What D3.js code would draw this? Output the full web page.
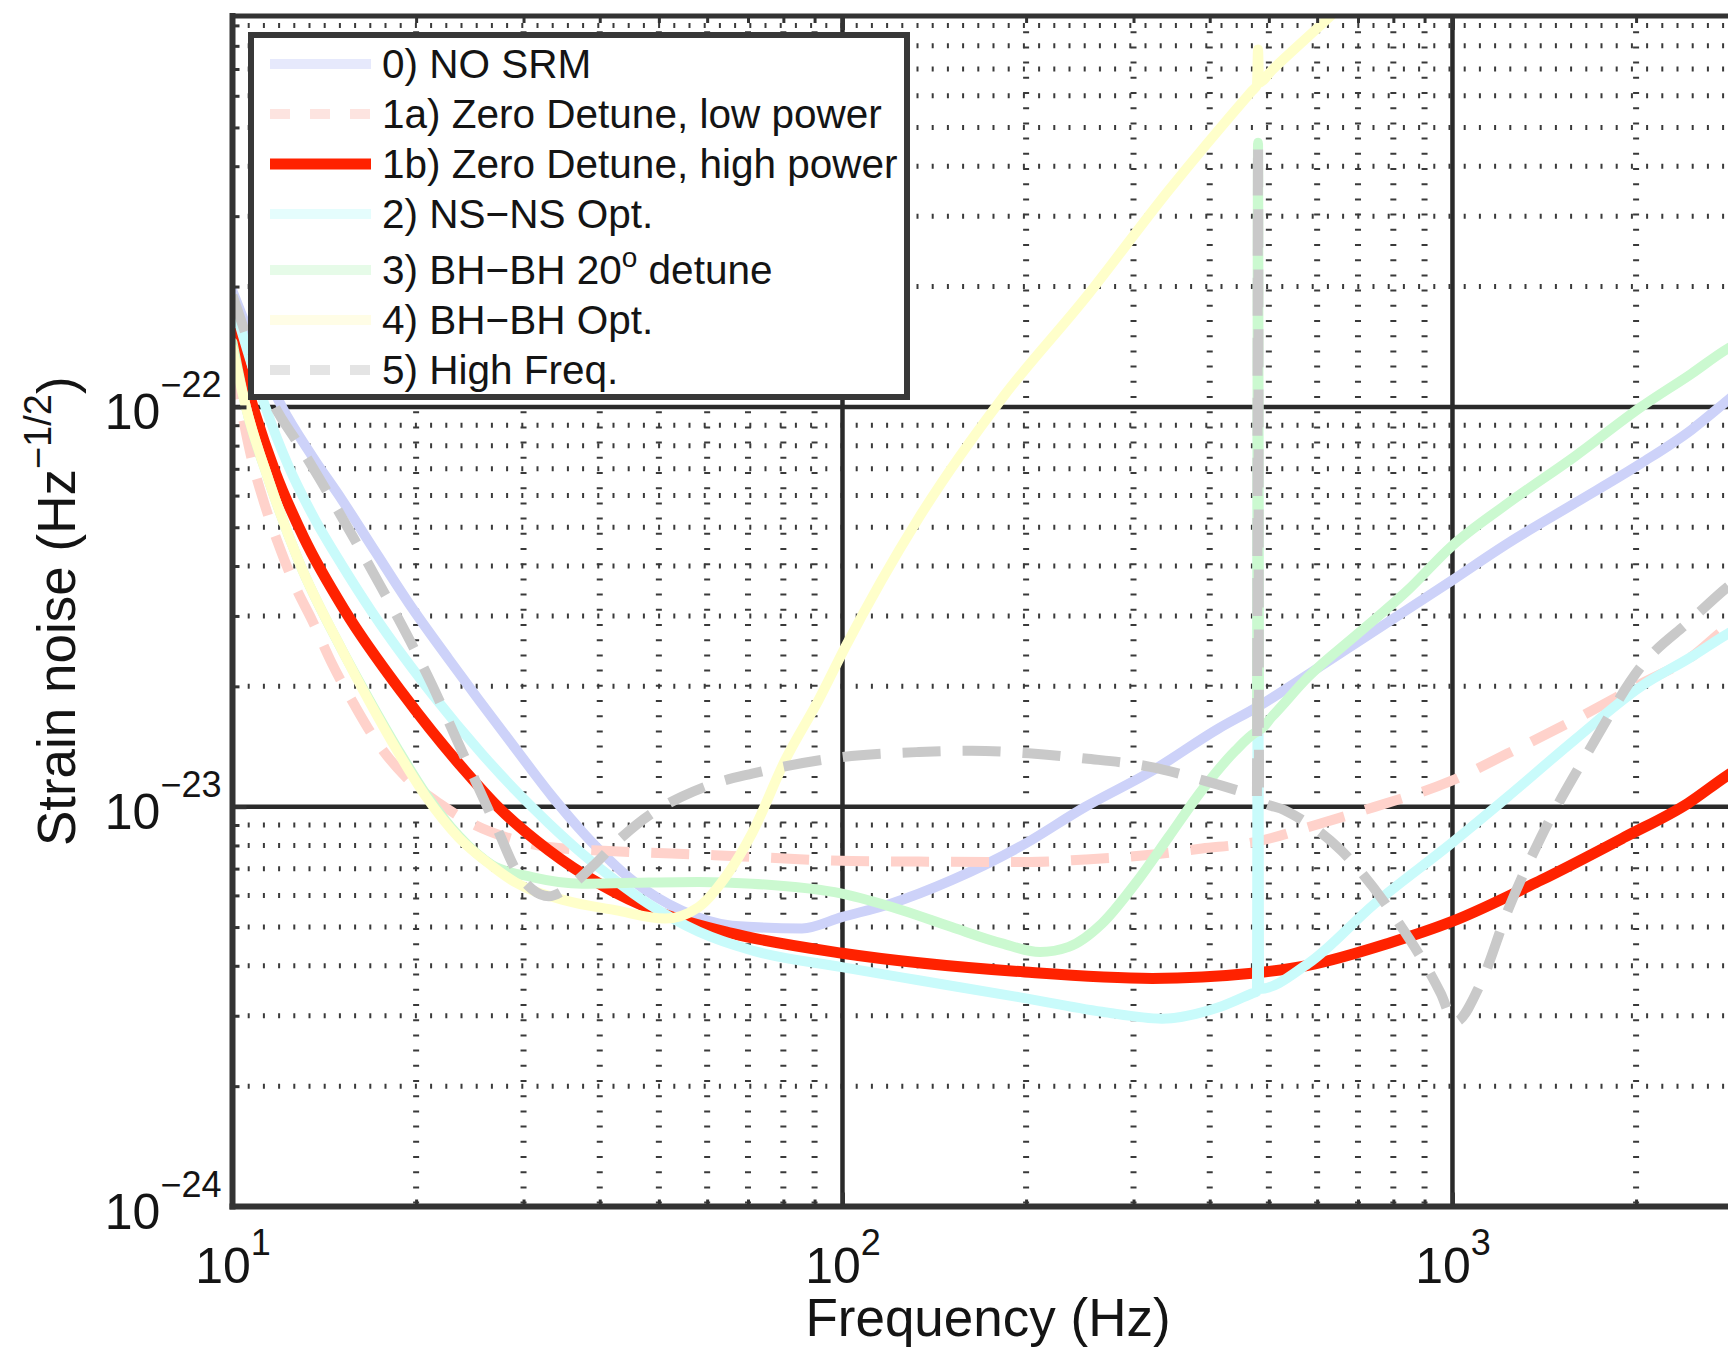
<!DOCTYPE html>
<html>
<head>
<meta charset="utf-8">
<title>Strain noise</title>
<script src="https://cdn.jsdelivr.net/npm/d3@7"></script>
<style>
  body { margin: 0; background: #fff; }
  svg { display: block; }
  text { font-family: "Liberation Sans", Arial, Helvetica, sans-serif; fill: #141414; }
</style>
</head>
<body>
<div id="chart"></div>
<script>
/* global d3 */

// axis limits and tick labels
const xLimits = [10, 3000]
const yLimits = [1e-24, 9.5e-22]
const xTicks = [10, 100, 1000]
const xTickExp = ['1', '2', '3']
const yTicks = [1e-24, 1e-23, 1e-22]
const yTickExp = ['\u221224', '\u221223', '\u221222']

const legendLabels = [
  '0) NO SRM',
  '1a) Zero Detune, low power',
  '1b) Zero Detune, high power',
  '2) NS\u2212NS Opt.',
  '3) BH\u2212BH 20^o detune',
  '4) BH\u2212BH Opt.',
  '5) High Freq.'
]

// series: frequency (Hz) / strain noise (1/sqrt(Hz))
// 0) NO SRM
const f0 = [10, 12.05, 13.5, 15.12, 17.15, 19.45, 22.62, 25.32, 29.08, 33.4, 37.87, 45.2, 54.6, 65.9, 85.8, 100, 120, 151, 195, 250, 322, 414, 480, 617, 794, 995, 1233, 1586, 2039, 2464, 2829, 3000]
const h0 = [1.95e-22, 1.0e-22, 7.54e-23, 5.85e-23, 4.34e-23, 3.23e-23, 2.34e-23, 1.853e-23, 1.40e-23, 1.062e-23, 8.49e-24, 6.55e-24, 5.49e-24, 5.04e-24, 4.96e-24, 5.30e-24, 5.72e-24, 6.55e-24, 7.93e-24, 9.99e-24, 1.23e-23, 1.57e-23, 1.78e-23, 2.28e-23, 2.93e-23, 3.67e-23, 4.56e-23, 5.74e-23, 7.23e-23, 8.76e-23, 1.04e-22, 1.12e-22]
// 1a) zero detune, low power
const f1a = [10, 10.76, 11.32, 12.05, 12.68, 13.5, 14.56, 15.9, 17.15, 19.2, 21.89, 24.7, 28.0, 33.0, 41.4, 52.5, 71.1, 103.6, 133.3, 202, 250, 313.6, 388.5, 469, 594.5, 745.6, 995, 1233, 1586, 2039, 2464, 2829, 3000]
const h1a = [1.3e-22, 7.37e-23, 5.63e-23, 4.30e-23, 3.55e-23, 2.93e-23, 2.28e-23, 1.78e-23, 1.47e-23, 1.19e-23, 1.017e-23, 9.08e-24, 8.40e-24, 7.93e-24, 7.75e-24, 7.64e-24, 7.49e-24, 7.31e-24, 7.29e-24, 7.27e-24, 7.38e-24, 7.56e-24, 7.86e-24, 8.13e-24, 8.99e-24, 9.99e-24, 1.16e-23, 1.36e-23, 1.65e-23, 2.03e-23, 2.37e-23, 2.82e-23, 2.98e-23]
// 1b) zero detune, high power
const f1b = [10, 10.89, 11.74, 13.09, 15.29, 18.96, 24.05, 27.31, 33.0, 39.85, 50.6, 65.9, 100, 199, 322, 469, 580, 784, 994, 1397, 1918, 2433, 2829, 3000]
const h1b = [1.535e-22, 9.62e-23, 6.89e-23, 4.71e-23, 3.09e-23, 1.93e-23, 1.23e-23, 9.95e-24, 7.78e-24, 6.43e-24, 5.41e-24, 4.82e-24, 4.30e-24, 3.86e-24, 3.72e-24, 3.83e-24, 4.01e-24, 4.55e-24, 5.15e-24, 6.55e-24, 8.40e-24, 1.02e-23, 1.2e-23, 1.27e-23]
// 2) NS-NS optimised
const f2 = [10, 11.32, 12.36, 13.67, 15.12, 16.93, 19.2, 21.23, 25.65, 29.08, 33.0, 37.41, 42.4, 48.1, 58.1, 71.1, 99.8, 133.3, 194.5, 266.3, 334, 413.8, 469, 478, 480, 482, 579.7, 745.6, 995, 1233, 1586, 2039, 2464, 2829, 3000]
const h2 = [1.85e-22, 1.0e-22, 7.09e-23, 5.21e-23, 4.02e-23, 3.07e-23, 2.34e-23, 1.915e-23, 1.355e-23, 1.10e-23, 9.09e-24, 7.64e-24, 6.55e-24, 5.71e-24, 4.87e-24, 4.37e-24, 3.97e-24, 3.68e-24, 3.34e-24, 3.07e-24, 2.95e-24, 3.15e-24, 3.41e-24, 3.45e-24, 1.0e-22, 3.5e-24, 4.05e-24, 5.72e-24, 8.09e-24, 1.06e-23, 1.47e-23, 2.0e-23, 2.37e-23, 2.71e-23, 2.85e-23]
// 3) BH-BH 20 deg detune
const f3 = [10, 10.52, 11.46, 12.84, 15.12, 16.73, 18.73, 20.71, 23.49, 26.63, 30.97, 37.41, 45.2, 58.1, 71.1, 99.8, 125.2, 151, 182.6, 210.8, 234.9, 266.3, 302, 342.6, 388.5, 440.5, 474.6, 478, 480, 482, 506, 579.7, 700, 845, 995, 1233, 1586, 2039, 2464, 2829, 3000]
const h3 = [1.45e-22, 1.0e-22, 6.57e-23, 4.115e-23, 2.467e-23, 1.86e-23, 1.38e-23, 1.08e-23, 8.45e-24, 7.15e-24, 6.67e-24, 6.42e-24, 6.45e-24, 6.48e-24, 6.42e-24, 6.06e-24, 5.51e-24, 5.00e-24, 4.55e-24, 4.33e-24, 4.46e-24, 5.10e-24, 6.42e-24, 8.40e-24, 1.10e-23, 1.38e-23, 1.53e-23, 1.54e-23, 4.58e-22, 1.56e-23, 1.68e-23, 2.11e-23, 2.71e-23, 3.48e-23, 4.47e-23, 5.74e-23, 7.51e-23, 1.0e-22, 1.21e-22, 1.40e-22, 1.47e-22]
// 4) BH-BH optimised
const f4 = [10, 10.52, 11.46, 12.84, 15.12, 16.73, 18.73, 20.71, 23.49, 26.63, 29.08, 35.1, 42.4, 51.2, 58.1, 64.3, 71.1, 80.6, 91.4, 101.1, 133.3, 182.6, 250, 342.6, 469, 478, 480, 482, 506, 625, 820]
const h4 = [1.4e-22, 1.0e-22, 6.57e-23, 4.115e-23, 2.467e-23, 1.842e-23, 1.36e-23, 1.065e-23, 8.37e-24, 7.11e-24, 6.47e-24, 5.83e-24, 5.51e-24, 5.25e-24, 5.61e-24, 6.67e-24, 8.59e-24, 1.31e-23, 1.85e-23, 2.51e-23, 5.27e-23, 1.05e-22, 1.87e-22, 3.48e-22, 6.17e-22, 6.38e-22, 7.83e-22, 6.48e-22, 6.96e-22, 9.37e-22, 1.39e-21]
// 5) high frequency
const f5 = [10, 11.74, 12.84, 13.85, 14.93, 16.10, 17.37, 18.73, 19.94, 21.23, 23.19, 24.70, 25.97, 27.32, 29.08, 30.97, 33.0, 35.57, 38.85, 43.5, 48.7, 54.6, 61.9, 71.1, 99.8, 133.3, 163, 202, 250, 318, 393, 469, 478, 480, 482, 530.8, 656.5, 804, 957, 1008, 1113, 1233, 1397, 1687, 2037, 2460, 2829, 3000]
const h5 = [1.9e-22, 1.0e-22, 8.05e-23, 6.66e-23, 5.47e-23, 4.47e-23, 3.63e-23, 2.94e-23, 2.45e-23, 2.02e-23, 1.497e-23, 1.211e-23, 1.023e-23, 8.63e-24, 6.99e-24, 6.22e-24, 5.97e-24, 6.29e-24, 7.07e-24, 8.40e-24, 9.63e-24, 1.06e-23, 1.145e-23, 1.21e-23, 1.33e-23, 1.37e-23, 1.38e-23, 1.36e-23, 1.32e-23, 1.26e-23, 1.16e-23, 1.07e-23, 1.06e-23, 4.58e-22, 1.04e-23, 9.8e-24, 7.78e-24, 5.30e-24, 3.41e-24, 2.89e-24, 3.62e-24, 5.51e-24, 8.40e-24, 1.41e-23, 2.24e-23, 2.93e-23, 3.55e-23, 3.8e-23]

const freqs = [f0, f1a, f1b, f2, f3, f4, f5]
const strains = [h0, h1a, h1b, h2, h3, h4, h5]

// styles
const lineColors = ['#cdd2f9', '#ffd2cb', '#ff2200', '#c9fbfb', '#cbf9d0', '#ffffca', '#c9c9c9']
const legendColors = ['#e6e9fc', '#fde4e0', '#ff2200', '#e5fdfd', '#e6fbe8', '#fffde6', '#e4e4e4']
const lineWidths = [10, 10, 11, 10, 10, 10, 10]
const lineDashes = [null, '38 22', null, null, null, null, '38 22']

const width = 1728, height = 1350

const svg = d3.select('#chart').append('svg')
  .attr('width', width)
  .attr('height', height)

const x = d3.scaleLog().domain(xLimits).range([232.5, 1743.5])
const y = d3.scaleLog().domain(yLimits).range([1206.5, 16])

const [plotLeft, plotRight] = x.range()
const [plotBottom, plotTop] = y.range()

const isDecade = v => Math.abs(Math.log10(v) - Math.round(Math.log10(v))) < 1e-6
const xMinor = x.ticks().filter(v => !isDecade(v))
const yMinor = y.ticks().filter(v => !isDecade(v))

// grid: dotted minor, solid major
const grid = svg.append('g')
grid.selectAll('line.vminor').data(xMinor).enter().append('line')
  .attr('class', 'vminor')
  .attr('x1', d => x(d)).attr('x2', d => x(d))
  .attr('y1', plotTop).attr('y2', plotBottom)
  .attr('stroke', '#3a3a3a').attr('stroke-width', 6).attr('stroke-dasharray', '2 13.2')
grid.selectAll('line.hminor').data(yMinor).enter().append('line')
  .attr('class', 'hminor')
  .attr('x1', plotLeft).attr('x2', plotRight)
  .attr('y1', d => y(d)).attr('y2', d => y(d))
  .attr('stroke', '#3a3a3a').attr('stroke-width', 5).attr('stroke-dasharray', '2 13.2')
grid.selectAll('line.vmajor').data(xTicks.filter(v => v > xLimits[0])).enter().append('line')
  .attr('class', 'vmajor')
  .attr('x1', d => x(d)).attr('x2', d => x(d))
  .attr('y1', plotTop).attr('y2', plotBottom)
  .attr('stroke', '#2a2a2a').attr('stroke-width', 4.5)
grid.selectAll('line.hmajor').data(yTicks.filter(v => v > yLimits[0])).enter().append('line')
  .attr('class', 'hmajor')
  .attr('x1', plotLeft).attr('x2', plotRight)
  .attr('y1', d => y(d)).attr('y2', d => y(d))
  .attr('stroke', '#2a2a2a').attr('stroke-width', 4.5)

// curves
svg.append('clipPath').attr('id', 'plotclip')
  .append('rect')
  .attr('x', plotLeft).attr('y', plotTop)
  .attr('width', plotRight - plotLeft).attr('height', plotBottom - plotTop)

const line = d3.line()
  .x(d => x(d[0]))
  .y(d => y(d[1]))
  .curve(d3.curveMonotoneX)

const curves = svg.append('g').attr('clip-path', 'url(#plotclip)')
freqs.forEach((f, i) => {
  curves.append('path')
    .datum(d3.zip(f, strains[i]))
    .attr('d', line)
    .attr('fill', 'none')
    .attr('stroke', lineColors[i])
    .attr('stroke-width', lineWidths[i])
    .attr('stroke-linejoin', 'round')
    .attr('stroke-linecap', lineDashes[i] ? 'butt' : 'round')
    .attr('stroke-dasharray', lineDashes[i])
})

// axes (ticks point inward)
const styleTicks = (g, w) => {
  g.select('.domain').remove()
  g.selectAll('.tick line').attr('stroke', '#333').attr('stroke-width', w)
}

svg.append('g').attr('transform', `translate(0,${plotBottom})`)
  .call(d3.axisBottom(x).tickValues(xMinor).tickSize(-7).tickFormat(''))
  .call(styleTicks, 3)
svg.append('g').attr('transform', `translate(0,${plotTop})`)
  .call(d3.axisTop(x).tickValues(xMinor).tickSize(-7).tickFormat(''))
  .call(styleTicks, 3)
svg.append('g').attr('transform', `translate(0,${plotTop})`)
  .call(d3.axisTop(x).tickValues(xTicks).tickSize(-14).tickFormat(''))
  .call(styleTicks, 4)
svg.append('g').attr('transform', `translate(${plotLeft},0)`)
  .call(d3.axisLeft(y).tickValues(yMinor).tickSize(-7).tickFormat(''))
  .call(styleTicks, 3)

const gx = svg.append('g').attr('transform', `translate(0,${plotBottom})`)
  .call(d3.axisBottom(x).tickValues(xTicks).tickSize(-14).tickFormat(''))
  .call(styleTicks, 4)
gx.selectAll('.tick text')
  .attr('y', 76).attr('dy', null)
  .attr('font-size', 50).attr('text-anchor', 'middle')
  .each(function (d) {
    const t = d3.select(this).text('10')
    t.append('tspan').attr('dy', -28).attr('font-size', 36).text(xTickExp[xTicks.indexOf(d)])
  })

const gy = svg.append('g').attr('transform', `translate(${plotLeft},0)`)
  .call(d3.axisLeft(y).tickValues(yTicks).tickSize(-14).tickFormat(''))
  .call(styleTicks, 4)
gy.selectAll('.tick text')
  .attr('x', -11).attr('y', 22).attr('dy', null)
  .attr('font-size', 50).attr('text-anchor', 'end')
  .each(function (d) {
    const t = d3.select(this).text('10')
    t.append('tspan').attr('dy', -32).attr('font-size', 36).text(yTickExp[yTicks.indexOf(d)])
  })

// frame
const frame = svg.append('g').attr('stroke', '#333').attr('stroke-width', 6).attr('stroke-linecap', 'square')
frame.append('line').attr('x1', plotLeft).attr('x2', plotLeft).attr('y1', plotTop).attr('y2', plotBottom)
frame.append('line').attr('x1', plotLeft).attr('x2', plotRight).attr('y1', plotBottom).attr('y2', plotBottom)
frame.append('line').attr('x1', plotLeft).attr('x2', plotRight).attr('y1', plotTop).attr('y2', plotTop).attr('stroke-width', 5)
frame.append('line').attr('x1', plotRight).attr('x2', plotRight).attr('y1', plotTop).attr('y2', plotBottom)

// axis titles
svg.append('text')
  .attr('x', 988).attr('y', 1336)
  .attr('text-anchor', 'middle')
  .attr('font-size', 53)
  .text('Frequency (Hz)')

const ylab = svg.append('text')
  .attr('transform', `translate(75,${(plotTop + plotBottom) / 2}) rotate(-90)`)
  .attr('text-anchor', 'middle')
  .attr('font-size', 53)
  .text('Strain noise (Hz')
ylab.append('tspan').attr('dy', -24).attr('font-size', 38).text('\u22121/2')
ylab.append('tspan').attr('dy', 24).text(')')

// legend
const legend = svg.append('g')
legend.append('rect')
  .attr('x', 251).attr('y', 35)
  .attr('width', 656).attr('height', 362)
  .attr('fill', '#fff').attr('stroke', '#383838').attr('stroke-width', 6)

legendLabels.forEach((label, i) => {
  const ly = 64 + 50 * i + (i >= 4 ? 6 : 0)
  legend.append('line')
    .attr('x1', 270).attr('x2', 371)
    .attr('y1', ly).attr('y2', ly)
    .attr('stroke', legendColors[i])
    .attr('stroke-width', lineWidths[i])
    .attr('stroke-dasharray', lineDashes[i] ? '20 20' : null)
  const t = legend.append('text')
    .attr('x', 382).attr('y', ly + 14)
    .attr('font-size', 40.5)
  const parts = label.split('^')
  t.append('tspan').text(parts[0])
  if (parts.length > 1) {
    t.append('tspan').attr('dy', -17).attr('font-size', 28).text(parts[1][0])
    t.append('tspan').attr('dy', 17).text(parts[1].slice(1))
  }
})
</script>
</body>
</html>
